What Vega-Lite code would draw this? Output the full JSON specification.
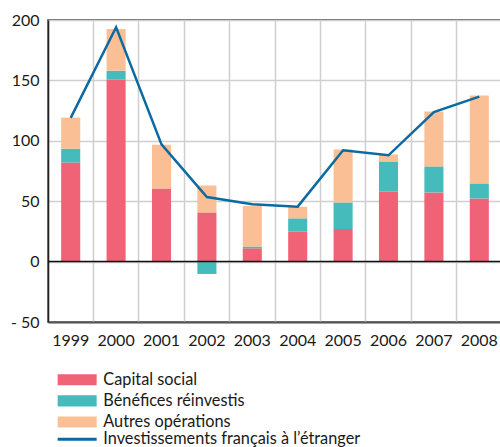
{
  "$schema": "https://vega.github.io/schema/vega-lite/v6.json",
  "width": 454,
  "height": 302,
  "autosize": "none",
  "padding": {"left": 48, "top": 20, "right": 0, "bottom": 125},
  "config": {
    "font": "Lato",
    "view": {"stroke": "#333", "strokeWidth": 1.5},
    "axis": {"labelFont": "Lato", "labelFontSize": 16, "labelColor": "#1a1a1a", "title": null}
  },
  "datasets": {
    "bars": [
      {"year": "1999", "series": "Capital social", "o": 1, "value": 82},
      {"year": "2000", "series": "Capital social", "o": 1, "value": 150.7},
      {"year": "2001", "series": "Capital social", "o": 1, "value": 60.6},
      {"year": "2002", "series": "Capital social", "o": 1, "value": 40.7},
      {"year": "2003", "series": "Capital social", "o": 1, "value": 11},
      {"year": "2004", "series": "Capital social", "o": 1, "value": 25},
      {"year": "2005", "series": "Capital social", "o": 1, "value": 27},
      {"year": "2006", "series": "Capital social", "o": 1, "value": 58},
      {"year": "2007", "series": "Capital social", "o": 1, "value": 57.3},
      {"year": "2008", "series": "Capital social", "o": 1, "value": 52.3},
      {"year": "1999", "series": "Bénéfices réinvestis", "o": 2, "value": 11.5},
      {"year": "2000", "series": "Bénéfices réinvestis", "o": 2, "value": 7.3},
      {"year": "2001", "series": "Bénéfices réinvestis", "o": 2, "value": 0},
      {"year": "2002", "series": "Bénéfices réinvestis", "o": 2, "value": -10.2},
      {"year": "2003", "series": "Bénéfices réinvestis", "o": 2, "value": 1.6},
      {"year": "2004", "series": "Bénéfices réinvestis", "o": 2, "value": 10.8},
      {"year": "2005", "series": "Bénéfices réinvestis", "o": 2, "value": 22},
      {"year": "2006", "series": "Bénéfices réinvestis", "o": 2, "value": 24.9},
      {"year": "2007", "series": "Bénéfices réinvestis", "o": 2, "value": 21.5},
      {"year": "2008", "series": "Bénéfices réinvestis", "o": 2, "value": 12.4},
      {"year": "1999", "series": "Autres opérations", "o": 3, "value": 25.7},
      {"year": "2000", "series": "Autres opérations", "o": 3, "value": 34.5},
      {"year": "2001", "series": "Autres opérations", "o": 3, "value": 36.1},
      {"year": "2002", "series": "Autres opérations", "o": 3, "value": 22.3},
      {"year": "2003", "series": "Autres opérations", "o": 3, "value": 33.4},
      {"year": "2004", "series": "Autres opérations", "o": 3, "value": 9.6},
      {"year": "2005", "series": "Autres opérations", "o": 3, "value": 43.8},
      {"year": "2006", "series": "Autres opérations", "o": 3, "value": 5.8},
      {"year": "2007", "series": "Autres opérations", "o": 3, "value": 45.4},
      {"year": "2008", "series": "Autres opérations", "o": 3, "value": 72.7}
    ],
    "line": [
      {"year": "1999", "total": 119},
      {"year": "2000", "total": 194},
      {"year": "2001", "total": 97},
      {"year": "2002", "total": 53.4},
      {"year": "2003", "total": 47.4},
      {"year": "2004", "total": 45.5},
      {"year": "2005", "total": 92.2},
      {"year": "2006", "total": 88},
      {"year": "2007", "total": 123.7},
      {"year": "2008", "total": 136.6}
    ]
  },
  "layer": [
    {
      "data": {"name": "bars"},
      "mark": {"type": "bar", "width": {"band": 0.42}},
      "encoding": {
        "x": {
          "field": "year", "type": "nominal",
          "scale": {"paddingInner": 0, "paddingOuter": 0},
          "axis": {"bandPosition": 0, "grid": true, "gridColor": "#cfcfcf", "gridWidth": 1.5, "ticks": false, "labelAngle": 0, "labelPadding": 10, "domainColor": "#555", "domainWidth": 2}
        },
        "y": {
          "field": "value", "type": "quantitative", "aggregate": "sum",
          "scale": {"domain": [-50, 200], "nice": false},
          "axis": {"values": [-50, 0, 50, 100, 150, 200], "labelExpr": "datum.value < 0 ? '- ' + abs(datum.value) : datum.label", "ticks": false, "gridColor": "#cfcfcf", "gridWidth": 1.5, "labelPadding": 9, "domainColor": "#222", "domainWidth": 1.5}
        },
        "order": {"field": "o", "type": "quantitative"},
        "fill": {
          "field": "series", "type": "nominal",
          "scale": {"domain": ["Capital social", "Bénéfices réinvestis", "Autres opérations"], "range": ["#f06275", "#45bbbb", "#fbbf96"]},
          "legend": {"title": null, "orient": "none", "legendX": 21, "legendY": 351.5, "symbolType": "M-3,-0.85H3V0.85H-3Z", "symbolSize": 169, "symbolStrokeWidth": 0, "labelFontSize": 16.3, "labelFont": "Lato", "labelColor": "#1a1a1a", "labelOffset": 18, "labelLimit": 400, "rowPadding": 4.2, "padding": 0}
        }
      }
    },
    {
      "data": {"values": [{"z": 0}]},
      "mark": {"type": "rule", "color": "#111", "strokeWidth": 1.5},
      "encoding": {"y": {"field": "z", "type": "quantitative"}}
    },
    {
      "data": {"name": "line"},
      "mark": {"type": "line", "strokeWidth": 2.5},
      "encoding": {
        "x": {"field": "year", "type": "nominal"},
        "y": {"field": "total", "type": "quantitative"},
        "stroke": {
          "datum": "Investissements français à l’étranger",
          "scale": {"range": ["#0b6aa2"]},
          "legend": {"title": null, "orient": "none", "legendX": 21, "legendY": 411, "symbolType": "M-3,0H3", "symbolSize": 169, "symbolStrokeWidth": 3, "labelFontSize": 16.3, "labelFont": "Lato", "labelColor": "#1a1a1a", "labelOffset": 18, "labelLimit": 400, "padding": 0}
        }
      }
    }
  ]
}
